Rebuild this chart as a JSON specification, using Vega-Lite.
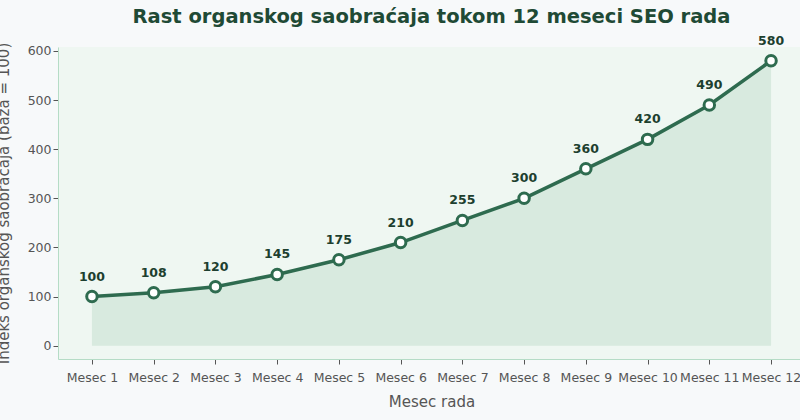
{
  "$schema": "https://vega.github.io/schema/vega-lite/v6.json",
  "autosize": "none",
  "width": 747,
  "height": 312,
  "padding": {"left": 58, "top": 47, "right": 0, "bottom": 61},
  "background": "#f7f9fa",
  "title": {
    "text": "Rast organskog saobraćaja tokom 12 meseci SEO rada",
    "font": "DejaVu Sans",
    "fontSize": 19.5,
    "fontWeight": "bold",
    "color": "#1f4a35",
    "anchor": "middle",
    "offset": 7
  },
  "config": {
    "view": {"fill": "#eff7f2", "stroke": null},
    "axis": {
      "labelFont": "DejaVu Sans",
      "titleFont": "DejaVu Sans",
      "labelColor": "#555555",
      "titleColor": "#555555",
      "labelFontSize": 12.5,
      "titleFontSize": 15,
      "titleFontWeight": "normal",
      "domainColor": "#b5dcc6",
      "tickColor": "#555555",
      "tickSize": 5,
      "grid": false
    }
  },
  "data": {
    "values": [
      {"mesec": "Mesec 1", "indeks": 100},
      {"mesec": "Mesec 2", "indeks": 108},
      {"mesec": "Mesec 3", "indeks": 120},
      {"mesec": "Mesec 4", "indeks": 145},
      {"mesec": "Mesec 5", "indeks": 175},
      {"mesec": "Mesec 6", "indeks": 210},
      {"mesec": "Mesec 7", "indeks": 255},
      {"mesec": "Mesec 8", "indeks": 300},
      {"mesec": "Mesec 9", "indeks": 360},
      {"mesec": "Mesec 10", "indeks": 420},
      {"mesec": "Mesec 11", "indeks": 490},
      {"mesec": "Mesec 12", "indeks": 580}
    ]
  },
  "encoding": {
    "x": {
      "field": "mesec",
      "type": "ordinal",
      "sort": null,
      "scale": {"type": "point", "padding": 0.55},
      "axis": {"title": "Mesec rada", "labelAngle": 0, "labelPadding": 7, "titlePadding": 11}
    },
    "y": {
      "field": "indeks",
      "type": "quantitative",
      "scale": {"domain": [-27, 608], "nice": false, "zero": false},
      "axis": {"title": "Indeks organskog saobraćaja (baza = 100)", "values": [0, 100, 200, 300, 400, 500, 600], "titlePadding": 16}
    }
  },
  "layer": [
    {
      "mark": {"type": "area", "color": "#d3e7dc", "opacity": 0.85, "y2": {"expr": "scale('y', 0)"}},
      "encoding": {}
    },
    {
      "mark": {"type": "line", "color": "#2e6b4f", "strokeWidth": 3.5},
      "encoding": {}
    },
    {
      "mark": {"type": "point", "filled": true, "fill": "#ffffff", "stroke": "#2e6b4f", "strokeWidth": 3, "size": 110, "opacity": 1},
      "encoding": {}
    },
    {
      "mark": {"type": "text", "font": "DejaVu Sans", "fontSize": 12.5, "fontWeight": "bold", "color": "#1d3f2f", "dy": -20},
      "encoding": {"text": {"field": "indeks", "type": "quantitative"}}
    }
  ]
}
